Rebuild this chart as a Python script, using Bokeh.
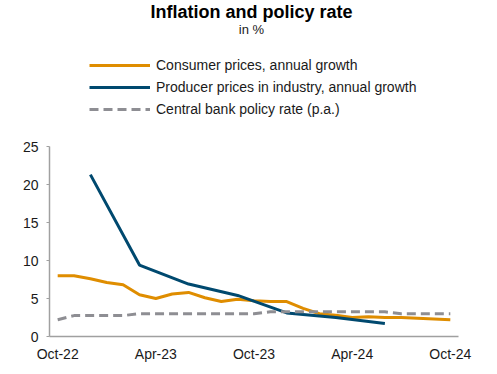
from bokeh.plotting import figure
from bokeh.models import Range1d, FixedTicker, Label, Legend, LegendItem
from bokeh.embed import file_html
from bokeh.resources import INLINE

# ---- data ----
months = ["Oct-22", "Nov-22", "Dec-22", "Jan-23", "Feb-23", "Mar-23", "Apr-23",
          "May-23", "Jun-23", "Jul-23", "Aug-23", "Sep-23", "Oct-23", "Nov-23",
          "Dec-23", "Jan-24", "Feb-24", "Mar-24", "Apr-24", "May-24", "Jun-24",
          "Jul-24", "Aug-24", "Sep-24", "Oct-24"]
cpi = [8.0, 8.0, 7.6, 7.1, 6.8, 5.5, 5.0, 5.6, 5.8, 5.1, 4.6, 4.9, 4.7,
       4.6, 4.6, 3.7, 3.0, 2.8, 2.5, 2.6, 2.5, 2.5, 2.4, 2.3, 2.2]
ppi_months = ["Dec-22", "Mar-23", "Jun-23", "Sep-23", "Dec-23", "Mar-24", "Jun-24"]
ppi = [21.3, 9.4, 6.9, 5.4, 3.1, 2.5, 1.7]
policy = [2.2, 2.75, 2.75, 2.75, 2.75, 3.0, 3.0, 3.0, 3.0, 3.0, 3.0, 3.0, 3.0,
          3.25, 3.25, 3.25, 3.25, 3.25, 3.25, 3.25, 3.25, 3.0, 3.0, 3.0, 3.0]
tick_labels = ["Oct-22", "Apr-23", "Oct-23", "Apr-24", "Oct-24"]
y_ticks = [0, 5, 10, 15, 20, 25]
y_max = 25

series_names = ["Consumer prices, annual growth",
                "Producer prices in industry, annual growth",
                "Central bank policy rate (p.a.)"]

ORANGE = "#DF8D00"
BLUE = "#00496F"
GREY = "#8E8E93"
FONT = "Liberation Sans"

x_all = list(range(len(months)))
x_ppi = [months.index(m) for m in ppi_months]

W, H = 497, 374
LEFT, RIGHT, BOTTOM = 49, 39, 38
PLOT_TOP = 146                    # canvas y where the value 25 sits
frame_h = H - BOTTOM              # frame extends to the top of the canvas
px_per_unit = (frame_h - PLOT_TOP) / y_max
y_top = frame_h / px_per_unit

p = figure(width=W, height=H, output_backend="svg", toolbar_location=None,
           x_range=Range1d(-0.5, len(months) - 0.5), y_range=Range1d(0, y_top),
           min_border_left=LEFT, min_border_right=RIGHT,
           min_border_top=0, min_border_bottom=BOTTOM)
p.outline_line_color = None
p.xgrid.visible = False
p.ygrid.visible = False
p.background_fill_color = "white"
p.border_fill_color = "white"

r_cpi = p.line(x_all, cpi, line_color=ORANGE, line_width=3)
r_ppi = p.line(x_ppi, ppi, line_color=BLUE, line_width=3)
r_pol = p.line(x_all, policy, line_color=GREY, line_width=3, line_dash="9 5")

# axes
xa = p.xaxis[0]
xa.ticker = FixedTicker(ticks=[months.index(t) for t in tick_labels])
xa.major_label_overrides = {months.index(t): t for t in tick_labels}
xa.major_tick_out = 0
xa.major_tick_in = 0
xa.minor_tick_line_color = None
xa.axis_line_color = "#A0A0A0"
xa.axis_line_width = 1.5
xa.major_label_text_font = FONT
xa.major_label_text_font_size = "14px"
xa.major_label_text_color = "#1a1a1a"
xa.major_label_standoff = 9

ya = p.yaxis[0]
ya.ticker = FixedTicker(ticks=y_ticks)
ya.bounds = (0, y_max)
ya.major_tick_out = 3
ya.major_tick_in = 0
ya.major_tick_line_color = "#A0A0A0"
ya.minor_tick_line_color = None
ya.axis_line_color = "#A0A0A0"
ya.axis_line_width = 1.5
ya.major_label_text_font = FONT
ya.major_label_text_font_size = "14px"
ya.major_label_text_color = "#1a1a1a"
ya.major_label_standoff = 8

# title / subtitle (frame-relative screen units, y measured up from frame bottom)
p.add_layout(Label(x=202, y=frame_h - 11, x_units="screen", y_units="screen",
                   text="Inflation and policy rate", text_align="center",
                   text_baseline="middle", text_font=FONT, text_font_style="bold",
                   text_font_size="18px", text_color="black"))
p.add_layout(Label(x=202, y=frame_h - 28.5, x_units="screen", y_units="screen",
                   text="in %", text_align="center",
                   text_baseline="middle", text_font=FONT,
                   text_font_size="13px", text_color="#1a1a1a"))

legend = Legend(items=[LegendItem(label=series_names[0], renderers=[r_cpi]),
                       LegendItem(label=series_names[1], renderers=[r_ppi]),
                       LegendItem(label=series_names[2], renderers=[r_pol])],
                location=(40, frame_h - 119))
legend.glyph_width = 61
legend.glyph_height = 20
legend.label_height = 20
legend.spacing = 2
legend.padding = 0
legend.margin = 0
legend.label_standoff = 6
legend.border_line_color = None
legend.background_fill_alpha = 0
legend.label_text_font = FONT
legend.label_text_font_size = "14px"
legend.label_text_color = "#1a1a1a"
p.add_layout(legend, "center")

open("out.html", "w").write(file_html(p, INLINE))
